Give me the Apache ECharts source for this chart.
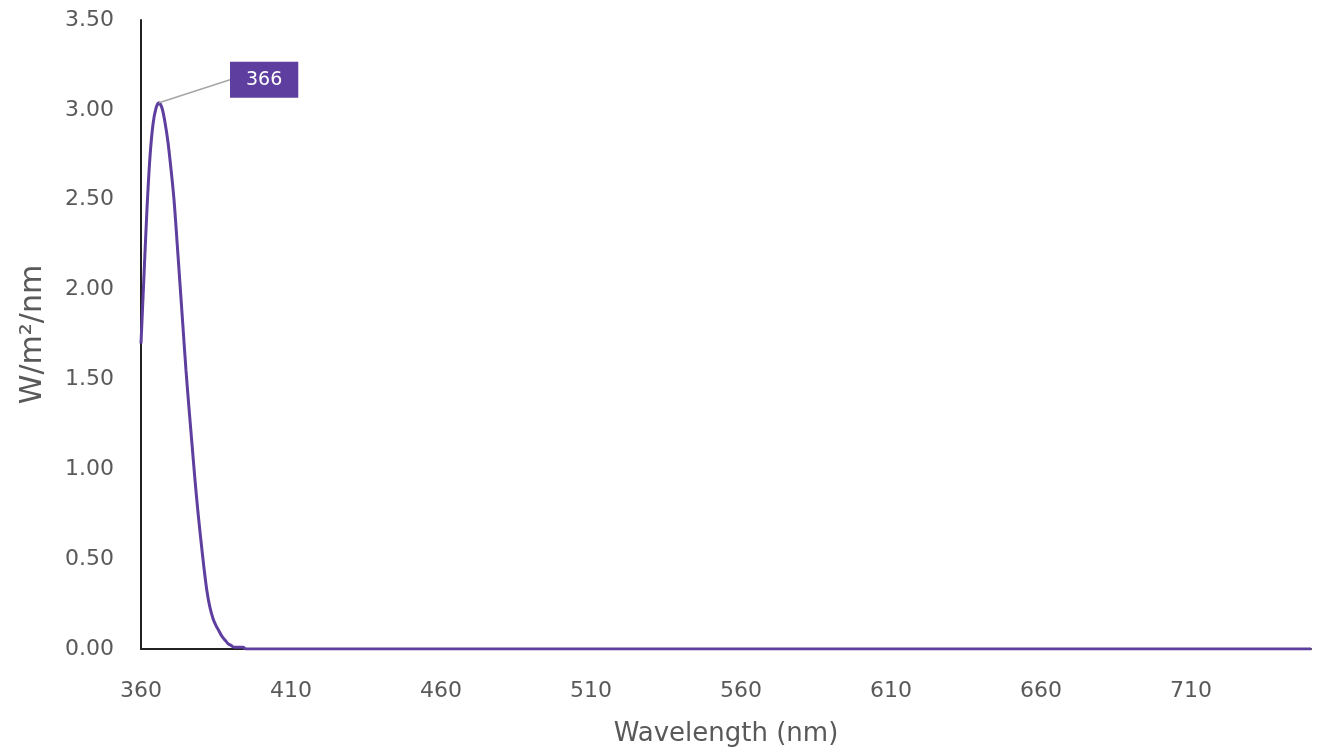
<!DOCTYPE html>
<html>
<head>
<meta charset="utf-8">
<script src="https://cdn.jsdelivr.net/npm/echarts@6/dist/echarts.min.js"></script>
<style>
html,body{margin:0;padding:0;background:#fff;}
#c{width:1323px;height:752px;}
</style>
</head>
<body>
<div id="c"></div>
<script>
// Wavelength (nm) samples along the curve
const wavelengths = [360,361,362,363,364,365,366,367,368,369,370,371,372,373,374,375,376,377,378,379,380,381,382,383,384,385,386,387,388,389,390,391,392,393,394,395,750];
// Irradiance (W/m²/nm)
const irradiance = [1.70,2.08,2.45,2.74,2.92,3.01,3.04,3.01,2.93,2.82,2.67,2.50,2.27,2.03,1.79,1.55,1.34,1.14,0.94,0.76,0.60,0.45,0.32,0.23,0.17,0.13,0.10,0.07,0.05,0.03,0.02,0.01,0.01,0.01,0.01,0.00,0.00];
const xTicks = [360,410,460,510,560,610,660,710];
const yTicks = [0,0.5,1,1.5,2,2.5,3,3.5];
const peakWavelength = 366;

const purple = '#5E3E9E';
const font = '"DejaVu Sans", "Open Sans", sans-serif';
const textGrey = '#595959';

const peakIndex = wavelengths.indexOf(peakWavelength);
const seriesData = wavelengths.map((w, i) => {
  const item = { value: [w, irradiance[i]] };
  if (i === peakIndex) {
    item.label = {
      show: true,
      formatter: String(peakWavelength),
      backgroundColor: purple,
      color: '#fff',
      fontFamily: font,
      fontSize: 19,
      padding: [9, 16, 8, 16],
      position: 'right',
      distance: 4
    };
  }
  return item;
});

const chart = echarts.init(document.getElementById('c'), null, { renderer: 'canvas' });
chart.setOption({
  animation: false,
  backgroundColor: '#fff',
  grid: { left: 141, right: 12, top: 20, bottom: 103, containLabel: false },
  xAxis: {
    type: 'value',
    min: 360,
    max: 750,
    name: 'Wavelength (nm)',
    nameLocation: 'middle',
    nameGap: 72,
    nameTextStyle: { fontFamily: font, fontSize: 26, color: textGrey },
    axisLine: { show: true, lineStyle: { color: '#222', width: 2 } },
    axisTick: { show: false },
    splitLine: { show: false },
    axisLabel: {
      customValues: xTicks,
      fontFamily: font,
      fontSize: 22,
      color: textGrey,
      margin: 31
    }
  },
  yAxis: {
    type: 'value',
    min: 0,
    max: 3.5,
    interval: 0.5,
    name: 'W/m²/nm',
    nameLocation: 'middle',
    nameGap: 93,
    nameTextStyle: { fontFamily: font, fontSize: 30, color: textGrey },
    axisLine: { show: true, lineStyle: { color: '#222', width: 2 } },
    axisTick: { show: false },
    splitLine: { show: false },
    axisLabel: {
      customValues: yTicks,
      formatter: v => v.toFixed(2),
      fontFamily: font,
      fontSize: 22,
      color: textGrey,
      margin: 27
    }
  },
  series: [{
    type: 'line',
    data: seriesData,
    showSymbol: true,
    showAllSymbol: true,
    symbol: 'circle',
    symbolSize: 0.01,
    smooth: 0.3,
    lineStyle: { color: purple, width: 3 },
    itemStyle: { color: purple },
    labelLine: { show: true, lineStyle: { color: '#a6a6a6', width: 1.5 } },
    labelLayout: function (p) {
      if (p.dataIndex === peakIndex) {
        return { dx: 67, dy: -23, hideOverlap: false };
      }
      return {};
    }
  }]
});
</script>
</body>
</html>
